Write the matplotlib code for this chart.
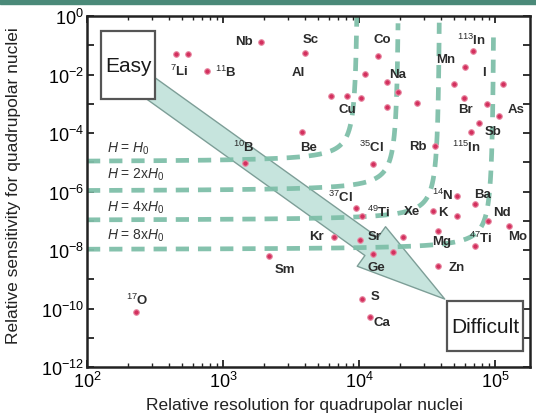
import numpy as np
import matplotlib
matplotlib.use('Agg')
import matplotlib.pyplot as plt
from matplotlib.patches import Rectangle
from matplotlib.ticker import FixedLocator, FuncFormatter, LogLocator, NullFormatter

plt.rcParams['font.family'] = ['Liberation Sans', 'DejaVu Sans']
plt.rcParams['mathtext.fontset'] = 'custom'
plt.rcParams['mathtext.rm'] = 'Liberation Sans'
plt.rcParams['mathtext.it'] = 'Liberation Sans:italic'
plt.rcParams['mathtext.bf'] = 'Liberation Sans:bold'

# ---------------- data ----------------
dot_resolution = [453, 555, 766, 1914, 4036, 13700, 11000, 15960, 19240, 6280,
                  8110, 10280, 15960, 26550, 3840, 12600, 36050, 66400, 76000, 60000,
                  68700, 49800, 114000, 59000, 87100, 107000, 1460, 230, 52400, 71100,
                  9440, 10450, 34800, 52400, 88700, 126500, 6500, 10100, 20900, 37900,
                  71100, 12600, 17700, 37900, 2190, 10600, 12000]
dot_sensitivity = [5.0e-2, 5.0e-2, 1.32e-2, 1.29e-1, 5.4e-2, 4.3e-2, 1.04e-2, 5.55e-3, 2.52e-3, 1.84e-3,
                   1.84e-3, 1.58e-3, 7.7e-4, 1.07e-3, 1.08e-4, 8.7e-6, 3.6e-5, 1.08e-4, 2.2e-4, 1.8e-2,
                   6.4e-2, 4.7e-3, 4.7e-3, 1.58e-3, 9.8e-4, 3.8e-4, 9.4e-6, 7.6e-11, 7.0e-7, 3.7e-7,
                   2.75e-7, 1.45e-7, 2.15e-7, 1.45e-7, 9.8e-8, 6.6e-8, 2.8e-8, 2.2e-8, 2.8e-8, 4.5e-8,
                   1.37e-8, 7.3e-9, 8.5e-9, 2.8e-9, 6.2e-9, 2.1e-10, 5.1e-11]

label_names = ['Nb', r'$^{7}$Li', r'$^{11}$B', 'Sc', 'Al', 'Co', 'Na', 'Cu', 'Be', r'$^{35}$Cl',
               'Rb', r'$^{115}$In', 'Sb', 'Mn', r'$^{113}$In', 'I', 'Br', 'As', r'$^{37}$Cl', r'$^{14}$N',
               'Ba', r'$^{49}$Ti', 'Xe', 'K', 'Nd', 'Mo', 'Kr', 'Sr', 'Mg', r'$^{47}$Ti',
               'Ge', 'Zn', 'Sm', 'S', 'Ca', r'$^{17}$O', r'$^{10}$B']
label_resolution = [1435, 476, 1057, 4395, 3589, 14930, 19230, 8241, 4256, 12390,
                    27040, 62090, 96600, 43450, 67610, 82790, 61090, 142600, 7311, 41300,
                    81470, 13930, 24430, 41300, 112500, 147600, 4875, 13030, 40640, 78700,
                    13490, 52360, 2831, 13030, 14690, 233, 1413]
label_sensitivity = [0.140, 0.01426, 0.0132, 0.164, 0.01216, 0.164, 0.0104, 6.6e-4, 3.32e-5, 3.6e-5,
                     3.6e-5, 3.6e-5, 1.17e-4, 0.0339, 0.164, 0.01216, 6.6e-4, 6.6e-4, 7.0e-7, 8.2e-7,
                     8.2e-7, 2.15e-7, 2.15e-7, 1.99e-7, 1.99e-7, 3.0e-8, 3.0e-8, 3.0e-8, 2.03e-8, 2.78e-8,
                     2.62e-9, 2.62e-9, 2.24e-9, 2.67e-10, 3.45e-11, 2.11e-10, 3.6e-5]

field_labels = [r'$H$ = $H_0$', r'$H$ = 2x$H_0$', r'$H$ = 4x$H_0$', r'$H$ = 8x$H_0$']
field_sensitivity = [1e-5, 1e-6, 1e-7, 1e-8]
field_resolution = [1e4, 2e4, 4e4, 1e5]
field_label_resolution = 140
field_label_sensitivity = [3.2e-5, 3.9e-6, 3.0e-7, 3.3e-8]

arrow_start = (286, 3.7e-3)
arrow_end = (42750, 2.1e-10)
easy_box = (127, 317, 1.45e-3, 0.307)
difficult_box = (44250, 160700, 3.5e-12, 1.8e-10)

xlim = (1e2, 1.81e5)
ylim = (1e-12, 1e0)

# ---------------- figure ----------------
fig = plt.figure(figsize=(5.36, 4.14), dpi=100)
fig.patches.append(Rectangle((0, 1 - 5 / 414), 1, 5 / 414, transform=fig.transFigure,
                             color='#4b8a79', zorder=0))
ax = fig.add_axes([87 / 536, 46 / 414, 443 / 536, 351 / 414])
ax.set_xscale('log')
ax.set_yscale('log')
ax.set_xlim(*xlim)
ax.set_ylim(*ylim)

# arrow from Easy to Difficult
ax.annotate('', xy=arrow_end, xytext=arrow_start,
            arrowprops=dict(arrowstyle='simple,head_length=65,head_width=35,tail_width=16',
                            mutation_scale=1, fc='#c6e4dd', ec='#7d9e97', lw=1.0,
                            shrinkA=0, shrinkB=0),
            zorder=1)

# field guide curves (hyperbola-like corners in log space)
c = 0.08
for hs, vr in zip(field_sensitivity, field_resolution):
    vh = np.log10(hs)
    uv = np.log10(vr)
    u = np.linspace(np.log10(xlim[0]), uv - 1e-4, 2000)
    v = vh + c / (uv - u)
    m = v <= 0.05
    ax.plot(10 ** u[m], 10 ** v[m], color='#7fbfa9', lw=3.4, dashes=(2.8, 1.9),
            solid_capstyle='butt', dash_capstyle='butt', zorder=2, alpha=0.95)

for t, s in zip(field_labels, field_label_sensitivity):
    ax.text(field_label_resolution, s, t, fontsize=10, color='#333333',
            ha='left', va='center', zorder=4)

# dots
ax.scatter(dot_resolution, dot_sensitivity, s=16, color='#d3305e', edgecolors='#e88aa3',
           linewidths=0.8, zorder=5)

# element labels
for name, xr, ys in zip(label_names, label_resolution, label_sensitivity):
    ax.text(xr, ys, name, fontsize=9.5, fontweight='bold', color='#2b2b2b',
            ha='center', va='center', zorder=6)

# Easy / Difficult boxes
for (x0, x1, y0, y1), txt in [(easy_box, 'Easy'), (difficult_box, 'Difficult')]:
    ax.add_patch(Rectangle((x0, y0), x1 - x0, y1 - y0, fc='white', ec='#555555',
                           lw=1.6, zorder=7))
    ax.text(np.sqrt(x0 * x1), np.sqrt(y0 * y1), txt, fontsize=15, color='#1a1a1a',
            ha='center', va='center', zorder=8)

# axes styling
for sp in ax.spines.values():
    sp.set_linewidth(1.8)
    sp.set_color('#222222')
    sp.set_zorder(9)

ax.xaxis.set_major_locator(FixedLocator([1e2, 1e3, 1e4, 1e5]))
ax.xaxis.set_minor_locator(LogLocator(base=10, subs=np.arange(2, 10)))
ax.xaxis.set_minor_formatter(NullFormatter())
ax.xaxis.set_major_formatter(FuncFormatter(lambda v, p: r'$10^{%d}$' % round(np.log10(v))))

ax.yaxis.set_major_locator(FixedLocator([10.0 ** k for k in range(-12, 1)]))
ax.yaxis.set_minor_locator(FixedLocator([]))
ax.yaxis.set_major_formatter(FuncFormatter(
    lambda v, p: (r'$10^{%d}$' % round(np.log10(v))) if round(np.log10(v)) % 2 == 0 else ''))

ax.tick_params(which='both', direction='in', top=True, right=True, color='#222222')
ax.tick_params(which='major', length=5, width=1.3, labelsize=13, pad=3)
ax.tick_params(which='minor', length=3, width=1.0)
ax.tick_params(axis='y', which='major', pad=2)

ax.set_xlabel('Relative resolution for quadrupolar nuclei', fontsize=12.5, color='#222222')
ax.set_ylabel('Relative sensitivity for quadrupolar nuclei', fontsize=12.5, color='#222222')
ax.xaxis.set_label_coords(0.49, -0.086)
ax.yaxis.set_label_coords(-0.15, 0.52)

fig.savefig('out.png', dpi=100)
